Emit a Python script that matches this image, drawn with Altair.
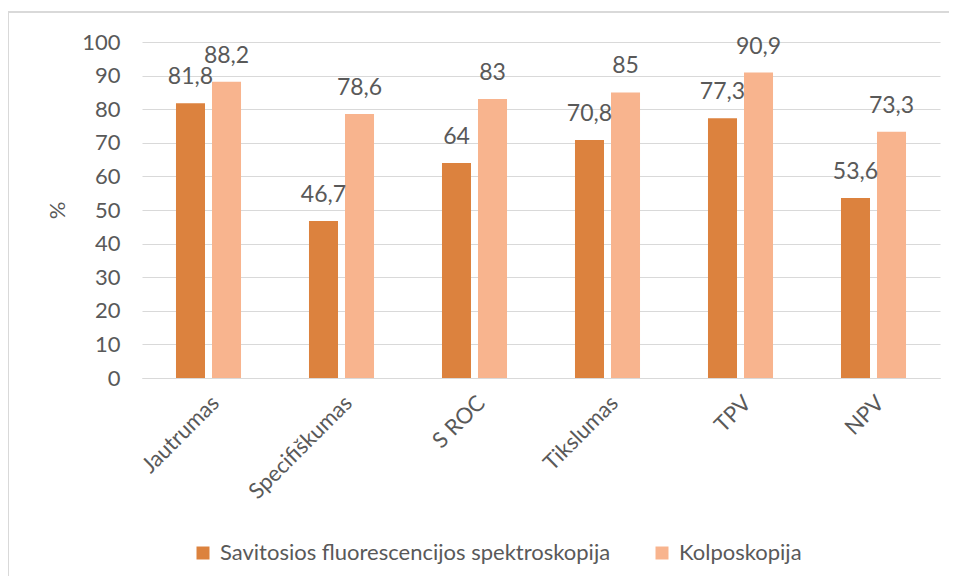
import altair as alt
import pandas as pd

categories = ["Jautrumas", "Specifiškumas", "S ROC", "Tikslumas", "TPV", "NPV"]
series_names = ["Savitosios fluorescencijos spektroskopija", "Kolposkopija"]
spektroskopija = [81.8, 46.7, 64, 70.8, 77.3, 53.6]
kolposkopija = [88.2, 78.6, 83, 85, 90.9, 73.3]
y_ticks = list(range(0, 101, 10))
colors = ["#DC823E", "#F8B48E"]

FONT = "Lato"
GRAY = "#595959"

rows = []
for name, vals in zip(series_names, [spektroskopija, kolposkopija]):
    for c, v in zip(categories, vals):
        rows.append({"cat": c, "series": name, "value": v,
                     "label": f"{v:g}".replace(".", ",")})
df = pd.DataFrame(rows)

x_enc = alt.X("cat:N", sort=categories,
              scale=alt.Scale(paddingInner=0.511, paddingOuter=0.2555),
              axis=alt.Axis(title=None, labelAngle=-45, labelFontSize=22,
                            labelColor=GRAY, labelFont=FONT, ticks=False,
                            labelPadding=14, domainColor="#D9D9D9",
                            domainWidth=1, labelLimit=0))
xoff = alt.XOffset("series:N", sort=series_names,
                   scale=alt.Scale(paddingInner=0.194, paddingOuter=0))
y_enc = alt.Y("value:Q", scale=alt.Scale(domain=[0, 100]),
              axis=alt.Axis(values=y_ticks, title="%", titleFontSize=22,
                            titleFont=FONT, titleColor=GRAY,
                            titleFontWeight="normal", titlePadding=12,
                            labelFontSize=22, labelFont=FONT, labelColor=GRAY,
                            labelPadding=22, ticks=False, domain=False,
                            labelOverlap=False, tickCount=11,
                            gridColor="#D9D9D9", gridWidth=1))

base = alt.Chart(df)
bars = base.mark_bar().encode(
    x=x_enc, xOffset=xoff, y=y_enc,
    color=alt.Color("series:N",
                    scale=alt.Scale(domain=series_names, range=colors),
                    legend=alt.Legend(title=None, orient="none", legendX=50,
                                      legendY=500, direction="horizontal",
                                      columns=2, columnPadding=40,
                                      symbolType="square", symbolSize=169,
                                      symbolStrokeWidth=0, labelLimit=0,
                                      labelFontSize=22, labelFont=FONT,
                                      labelColor=GRAY, labelOffset=6)),
)
labels = base.mark_text(fontSize=23, font=FONT, color=GRAY, baseline="middle",
                        dy=-26).encode(
    x=x_enc, xOffset=xoff, y=y_enc, text="label:N")

border = alt.Chart(pd.DataFrame({"a": [0]})).mark_rect(
    fill=None, stroke="#D9D9D9", strokeWidth=2).encode(
    x=alt.value(-134), x2=alt.value(900), y=alt.value(-30), y2=alt.value(600))

chart = alt.layer(border, bars, labels).properties(
    width=798, height=336,
    autosize=alt.AutoSizeParams(type="none"),
    padding={"left": 134, "top": 34, "right": 9, "bottom": 198},
).configure_view(stroke=None)

chart.save("out.html", embed_options={"renderer": "svg", "actions": False})
